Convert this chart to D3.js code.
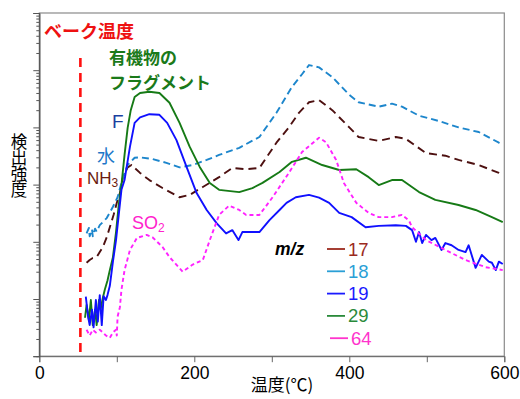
<!DOCTYPE html>
<html lang="ja">
<head>
<meta charset="UTF-8">
<title>検出強度 vs 温度</title>
<style>
  body { margin: 0; background: #fff; }
  svg { display: block; font-family: Arial, "Liberation Sans", "Noto Sans CJK JP", sans-serif; }
  .jp { font-family: "Noto Sans CJK JP", sans-serif; }
</style>
</head>
<body>
<svg id="chart" width="520" height="399"></svg>
<script src="https://cdn.jsdelivr.net/npm/d3@7"></script>
<script>
// temperature (°C) and detected intensity (a.u., log scale) per m/z
const mz17 = [[61,43],[65,48],[69,52],[74,54],[78,66],[82,81],[87,120],[91,180],[96,300],[100,480],[104,710],
  [108,1350],[114,2000],[119,2200],[130,1600],[142,1200],[159,870],[181,600],[194,660],[211,910],[232,1350],
  [249,1950],[267,1860],[284,1950],[306,5400],[322,1.0e4],[335,1.8e4],[348,2.75e4],[361,3.0e4],[378,2.0e4],
  [400,1.0e4],[412,6800],[438,5800],[460,6800],[473,6300],[499,3550],[524,3200],[541,2700],[567,2200],
  [593,1600],[598,1480]];
const mz18 = [[61,140],[64,175],[65,125],[68,165],[69,125],[72,170],[74,150],[78,195],[87,260],[95,410],
  [101,600],[108,1350],[114,2200],[123,2950],[130,3000],[146,2800],[164,2400],[181,2000],[198,2200],
  [216,2700],[232,3300],[258,4400],[284,6800],[306,1.8e4],[326,5.1e4],[339,8.5e4],[348,1.23e5],[361,1.12e5],
  [378,7.6e4],[400,3.7e4],[412,2.75e4],[438,2.3e4],[455,2.6e4],[468,2.3e4],[490,1.6e4],[515,1.3e4],
  [541,1.0e4],[567,8300],[593,5400],[598,4900]];
const mz19 = [[60,11],[63,4.9],[65,3.5],[68,6.5],[70,3.2],[73,9.6],[75.5,4.0],[78,11.7],[80.6,3.5],[83,11.2],
  [86,9.6],[88,11.7],[91,17],[95,45],[99,107],[102.5,295],[106,810],[110,1200],[117,4600],[123,1.2e4],
  [130,1.5e4],[142,1.7e4],[155,1.66e4],[165,1.2e4],[177,6000],[190,2040],[203,710],[216,360],[229,210],
  [241,140],[249,160],[257,107],[262,148],[275,148],[284,148],[297,240],[310,360],[319,480],[331,600],
  [348,660],[361,590],[374,480],[387,320],[403,270],[421,180],[438,190],[460,195],[473,190],[481,160],
  [486,100],[490,148],[494,95],[499,132],[506,107],[511,117],[519,72],[524,95],[532,87],[541,72],[550,66],
  [554,87],[563,35],[571,59],[580,45],[584,43],[589,32],[593,45],[598,41]];
const mz29 = [[59,4.7],[61,7.9],[64,4.3],[66.5,9.6],[69,3.5],[72,6.5],[74,3.5],[77,9.6],[79,6.5],[82,10.5],
  [84.5,14.5],[88,21],[91,32],[95,54],[99,148],[102.5,440],[106,980],[110,3300],[114,9800],[118,2.0e4],
  [123,3.4e4],[130,4.0e4],[142,4.2e4],[155,4.0e4],[168,2.7e4],[181,1.2e4],[194,4600],[207,2040],[220,1070],
  [232,810],[258,740],[275,870],[288,1070],[310,1660],[326,2500],[344,2950],[365,2200],[387,1800],
  [409,1860],[425,1350],[438,980],[455,1200],[468,1200],[490,740],[511,540],[541,440],[563,360],[584,270],
  [598,220]];
const mz64 = [[61,2.9],[65,2.3],[69,2.9],[73,2.6],[78,2.9],[82,2.6],[86,2.3],[91,2.1],[95,2.6],[99,2.9],
  [100,2.3],[101,4.9],[104,7.2],[106,14.5],[110,32],[117,72],[126,117],[138.5,132],[146,120],[159,81],
  [168,54],[185,30],[198,40],[211,48],[220,107],[232,295],[245,430],[258,360],[267,295],[284,295],
  [301,600],[322,1600],[339,3700],[361,6600],[370,5500],[383,2700],[393,1070],[409,480],[425,320],
  [438,270],[455,270],[468,295],[477,235],[481,180],[499,107],[524,72],[550,48],[576,36],[598,32]];

const bakeTemp = 53;
const xTicks = [0, 200, 400, 600];
const xMinor = [100, 300, 500];

const series = [
  {name: "17", data: mz17, color: "#4d1010", dash: "8,5", text: "#9b2a1e"},
  {name: "18", data: mz18, color: "#1d86cc", dash: "7,4", text: "#2a9fd6"},
  {name: "29", data: mz29, color: "#167a16", dash: null, text: "#2a8a3a"},
  {name: "19", data: mz19, color: "#1010ff", dash: null, text: "#1a1aff"},
  {name: "64", data: mz64, color: "#ff22ff", dash: "4,3", text: "#ff33cc"}
];
const legendOrder = ["17", "18", "19", "29", "64"];

const svg = d3.select("#chart");
const m = {left: 39.3, right: 504.3, top: 13, bottom: 356.2};

const x = d3.scaleLinear().domain([0, 600]).range([m.left, m.right]);
const y = d3.scaleLog().domain([1, 1e6]).range([m.bottom, m.top]);

// frame
svg.append("rect")
  .attr("x", m.left).attr("y", m.top)
  .attr("width", m.right - m.left).attr("height", m.bottom - m.top)
  .attr("fill", "none").attr("stroke", "#8a8a8a").attr("stroke-width", 1.2);

// x axis
const xAxis = svg.append("g").attr("transform", `translate(0,${m.bottom})`)
  .call(d3.axisBottom(x).tickValues(xTicks.concat(xMinor)).tickSize(6)
    .tickFormat(d => xTicks.includes(d) ? d : ""));
xAxis.select(".domain").attr("stroke", "#666");
xAxis.selectAll(".tick line").attr("stroke", "#666");
xAxis.selectAll(".tick text").attr("font-size", 17.5).attr("fill", "#000").attr("dy", "0.8em")
  .attr("font-family", "Arial, 'Liberation Sans', sans-serif");

// y axis: minor and major ticks, no labels
const decades = d3.range(0, 7).map(k => Math.pow(10, k));
const minor = y.ticks().filter(v => !decades.includes(v));
const yMinor = svg.append("g").attr("transform", `translate(${m.left},0)`)
  .call(d3.axisLeft(y).tickValues(minor).tickSize(3).tickFormat(""));
const yMajor = svg.append("g").attr("transform", `translate(${m.left},0)`)
  .call(d3.axisLeft(y).tickValues(decades).tickSize(6).tickFormat(""));
[yMinor, yMajor].forEach(g => {
  g.select(".domain").attr("stroke", "#555");
  g.selectAll(".tick line").attr("stroke", "#555");
});

// bake temperature line
svg.append("line")
  .attr("x1", x(bakeTemp)).attr("x2", x(bakeTemp))
  .attr("y1", 58).attr("y2", m.bottom)
  .attr("stroke", "#ff1010").attr("stroke-width", 2.6)
  .attr("stroke-dasharray", "9,6");

// curves
const line = d3.line().x(d => x(d[0])).y(d => y(d[1]));
series.forEach(s => {
  svg.append("path")
    .datum(s.data)
    .attr("d", line)
    .attr("fill", "none")
    .attr("stroke", s.color)
    .attr("stroke-width", 1.9)
    .attr("stroke-linejoin", "round")
    .attr("stroke-dasharray", s.dash);
});

// annotations
const ann = svg.append("g").attr("font-size", 18);
ann.append("text").attr("class", "jp").attr("x", 44).attr("y", 38)
  .attr("fill", "#ee1111").attr("font-weight", "bold").attr("font-size", 18).text("ベーク温度");
ann.append("text").attr("class", "jp").attr("x", 109).attr("y", 64).attr("font-size", 17)
  .attr("fill", "#1a7a1a").attr("font-weight", "bold").text("有機物の");
ann.append("text").attr("class", "jp").attr("x", 109).attr("y", 89).attr("font-size", 17)
  .attr("fill", "#1a7a1a").attr("font-weight", "bold").text("フラグメント");
ann.append("text").attr("x", 112).attr("y", 128).attr("font-size", 19).attr("fill", "#1b3f9f").text("F");
ann.append("text").attr("class", "jp").attr("x", 97).attr("y", 163).attr("fill", "#2077c8").text("水");
const nh3 = ann.append("text").attr("x", 87).attr("y", 184).attr("font-size", 17).attr("fill", "#6b1c10");
nh3.append("tspan").text("NH");
nh3.append("tspan").attr("font-size", 12).attr("dy", 3).text("3");
const so2 = ann.append("text").attr("x", 132).attr("y", 229).attr("fill", "#ff22cc");
so2.append("tspan").text("SO");
so2.append("tspan").attr("font-size", 12).attr("dy", 3).text("2");

// legend
const lg = svg.append("g");
lg.append("text").attr("x", 275).attr("y", 255).attr("font-size", 17.5)
  .attr("font-style", "italic").attr("font-weight", "bold").text("m/z");
legendOrder.forEach((name, i) => {
  const s = series.find(d => d.name === name);
  const cy = 249 + i * 22.3;
  const off = name === "64" ? 3 : 0;
  lg.append("line").attr("x1", 327 + off).attr("x2", 345 + off).attr("y1", cy).attr("y2", cy)
    .attr("stroke", s.text).attr("stroke-width", 1.8);
  lg.append("text").attr("x", 348 + off).attr("y", cy + 6.5).attr("font-size", 18.5)
    .attr("fill", s.text).text(name);
});

// axis titles
svg.append("text").attr("class", "jp").attr("x", 282).attr("y", 391)
  .attr("text-anchor", "middle").attr("font-size", 17).text("温度(℃)");
svg.append("text").attr("class", "jp")
  .attr("transform", "translate(19,133)")
  .attr("writing-mode", "vertical-rl")
  .attr("font-size", 16.5).attr("letter-spacing", -0.5).text("検出強度");
</script>
</body>
</html>
